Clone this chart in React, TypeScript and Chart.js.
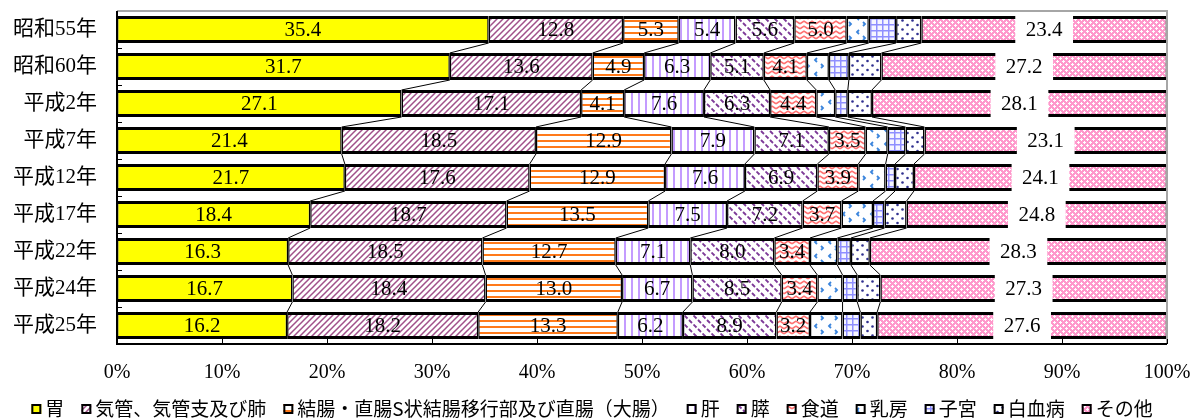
import { useEffect, useRef } from 'react';
import { Chart, registerables } from 'chart.js';

Chart.register(...registerables);

// ---- data ----
const years = ['昭和55年', '昭和60年', '平成2年', '平成7年', '平成12年', '平成17年', '平成22年', '平成24年', '平成25年'];
const seriesNames = ['胃', '気管、気管支及び肺', '結腸・直腸S状結腸移行部及び直腸（大腸）', '肝', '膵', '食道', '乳房', '子宮', '白血病', 'その他'];
const stomach = [35.4, 31.7, 27.1, 21.4, 21.7, 18.4, 16.3, 16.7, 16.2];
const lung = [12.8, 13.6, 17.1, 18.5, 17.6, 18.7, 18.5, 18.4, 18.2];
const colon = [5.3, 4.9, 4.1, 12.9, 12.9, 13.5, 12.7, 13.0, 13.3];
const liver = [5.4, 6.3, 7.6, 7.9, 7.6, 7.5, 7.1, 6.7, 6.2];
const pancreas = [5.6, 5.1, 6.3, 7.1, 6.9, 7.2, 8.0, 8.5, 8.9];
const esophagus = [5.0, 4.1, 4.4, 3.5, 3.9, 3.7, 3.4, 3.4, 3.2];
const breast = [2.1, 2.1, 1.8, 2.1, 2.6, 3.0, 2.6, 2.4, 3.1];
const uterus = [2.6, 1.9, 1.2, 1.7, 0.9, 1.1, 1.3, 1.4, 1.7];
const leukemia = [2.4, 3.1, 2.3, 1.8, 1.8, 2.1, 1.8, 2.2, 1.6];
const other = [23.4, 27.2, 28.1, 23.1, 24.1, 24.8, 28.3, 27.3, 27.6];
const xTicks = [0, 10, 20, 30, 40, 50, 60, 70, 80, 90, 100];
const labelledSeries = [true, true, true, true, true, true, false, false, false, true];

const SERIF = '"Liberation Serif", "Noto Sans CJK JP", serif';
const SANS = '"Noto Sans CJK JP", sans-serif';

function makeTile(
  target: CanvasRenderingContext2D,
  w: number,
  h: number,
  bg: string,
  draw: (g: CanvasRenderingContext2D) => void
): CanvasPattern | string {
  const c = document.createElement('canvas');
  c.width = w;
  c.height = h;
  const g = c.getContext('2d');
  if (!g) return bg;
  g.fillStyle = bg;
  g.fillRect(0, 0, w, h);
  draw(g);
  return target.createPattern(c, 'repeat') || bg;
}

function buildFills(ctx: CanvasRenderingContext2D) {
  const pLung = makeTile(ctx, 6, 6, '#FFFFFF', (g) => {
    g.strokeStyle = '#A0508A';
    g.lineWidth = 1.5;
    g.beginPath();
    g.moveTo(-1, 7); g.lineTo(7, -1);
    g.moveTo(-4, 4); g.lineTo(4, -4);
    g.moveTo(2, 10); g.lineTo(10, 2);
    g.stroke();
  });
  const pColon = makeTile(ctx, 8, 6, '#FFFFFF', (g) => {
    g.fillStyle = '#FF7A1A';
    g.fillRect(0, 2, 8, 2);
  });
  const pLiver = makeTile(ctx, 7, 4, '#FFFFFF', (g) => {
    g.fillStyle = '#C49CFF';
    g.fillRect(1, 0, 2, 4);
  });
  const pPancreas = makeTile(ctx, 9, 9, '#FFFFFF', (g) => {
    g.strokeStyle = '#7E3A98';
    g.lineWidth = 1.8;
    g.beginPath();
    g.moveTo(0.5, 0.5); g.lineTo(3.5, 3.5);
    g.moveTo(5, 5); g.lineTo(8, 8);
    g.stroke();
  });
  const pEso = makeTile(ctx, 8, 5, '#FFFFFF', (g) => {
    g.strokeStyle = '#FF7070';
    g.lineWidth = 1.6;
    g.beginPath();
    g.moveTo(0, 3.8); g.lineTo(4, 1.2); g.lineTo(8, 3.8);
    g.stroke();
  });
  const pBreast = makeTile(ctx, 14, 14, '#FFFFFF', (g) => {
    g.strokeStyle = '#3A84DC';
    g.lineWidth = 1.8;
    g.beginPath();
    g.moveTo(5, 2); g.lineTo(3, 4); g.lineTo(5, 6);
    g.moveTo(9, 8); g.lineTo(11, 10); g.lineTo(9, 12);
    g.stroke();
  });
  const pUterus = makeTile(ctx, 6, 6, '#F6F6FF', (g) => {
    g.fillStyle = '#8F8FFF';
    g.fillRect(0, 0, 6, 1.5);
    g.fillRect(0, 0, 1.5, 6);
  });
  const pLeuk = makeTile(ctx, 10, 9, '#FFFFFF', (g) => {
    g.fillStyle = '#30308F';
    g.beginPath(); g.arc(2.5, 2.5, 1.3, 0, Math.PI * 2); g.fill();
    g.beginPath(); g.arc(7.5, 7, 1.3, 0, Math.PI * 2); g.fill();
  });
  const pOther = makeTile(ctx, 6, 6, '#FF99CC', (g) => {
    g.fillStyle = '#FFFFFF';
    g.fillRect(1, 0, 1, 3);
    g.fillRect(0, 1, 3, 1);
    g.fillRect(4, 3, 1, 3);
    g.fillRect(3, 4, 3, 1);
  });
  return ['#FFFF00', pLung, pColon, pLiver, pPancreas, pEso, pBreast, pUterus, pLeuk, pOther];
}

const seriesLines = {
  id: 'seriesLines',
  beforeDatasetsDraw(chart: any) {
    const ctx = chart.ctx;
    ctx.save();
    ctx.strokeStyle = '#000000';
    ctx.lineWidth = 1;
    const n = chart.data.datasets.length;
    for (let d = 0; d < n - 1; d++) {
      const meta = chart.getDatasetMeta(d);
      for (let i = 0; i < meta.data.length - 1; i++) {
        const a: any = meta.data[i];
        const b: any = meta.data[i + 1];
        ctx.beginPath();
        ctx.moveTo(a.x, a.y + a.height / 2);
        ctx.lineTo(b.x, b.y - b.height / 2);
        ctx.stroke();
      }
    }
    ctx.restore();
  },
};

const frame = {
  id: 'frame',
  afterDatasetsDraw(chart: any) {
    const { ctx, chartArea } = chart;
    const { left, right, top, bottom } = chartArea;
    ctx.save();
    // gray top and right
    ctx.strokeStyle = '#A6A6A6';
    ctx.lineWidth = 2;
    ctx.beginPath();
    ctx.moveTo(left, top);
    ctx.lineTo(right, top);
    ctx.lineTo(right, bottom);
    ctx.stroke();
    // black axes
    ctx.strokeStyle = '#000000';
    ctx.lineWidth = 2;
    ctx.beginPath();
    ctx.moveTo(left, top);
    ctx.lineTo(left, bottom);
    ctx.lineTo(right, bottom);
    ctx.stroke();
    // ticks
    ctx.lineWidth = 1;
    const n = chart.data.labels.length;
    const step = (bottom - top) / n;
    ctx.beginPath();
    for (let i = 1; i < n; i++) {
      const yy = Math.round(top + step * i) + 0.5;
      ctx.moveTo(left, yy);
      ctx.lineTo(left + 5, yy);
    }
    const xScale = chart.scales.x;
    xTicks.forEach((v) => {
      const xx = Math.round(xScale.getPixelForValue(v)) + 0.5;
      ctx.moveTo(xx, bottom);
      ctx.lineTo(xx, bottom - 5);
    });
    ctx.stroke();
    ctx.restore();
  },
};

const valueLabels = {
  id: 'valueLabels',
  afterDatasetsDraw(chart: any) {
    const ctx = chart.ctx;
    ctx.save();
    ctx.font = `21px ${SERIF}`;
    ctx.textAlign = 'center';
    ctx.textBaseline = 'middle';
    chart.data.datasets.forEach((ds: any, d: number) => {
      if (!labelledSeries[d]) return;
      const meta = chart.getDatasetMeta(d);
      meta.data.forEach((el: any, i: number) => {
        const text = Number(ds.data[i]).toFixed(1);
        const cx = (el.x + el.base) / 2;
        const cy = el.y;
        if (d === chart.data.datasets.length - 1) {
          const w = ctx.measureText(text).width + 21;
          ctx.fillStyle = '#FFFFFF';
          ctx.fillRect(cx - w / 2, cy - 15.5, w, 31);
        }
        ctx.fillStyle = '#000000';
        ctx.fillText(text, cx, cy + 1);
      });
    });
    ctx.restore();
  },
};

const customLegend = {
  id: 'customLegend',
  afterDraw(chart: any) {
    const ctx = chart.ctx;
    ctx.save();
    ctx.font = `19px ${SANS}`;
    ctx.textBaseline = 'middle';
    ctx.textAlign = 'left';
    const box = 10;
    const gapText = 4;
    const gapItem = 17;
    const widths = chart.data.datasets.map((ds: any) => ctx.measureText(ds.label).width);
    const total =
      widths.reduce((s: number, w: number) => s + w, 0) +
      widths.length * (box + gapText) +
      (widths.length - 1) * gapItem;
    let x = 592 - total / 2;
    const cy = 409;
    chart.data.datasets.forEach((ds: any, i: number) => {
      ctx.fillStyle = ds.backgroundColor;
      ctx.fillRect(x, cy - box / 2, box, box);
      ctx.strokeStyle = '#000000';
      ctx.lineWidth = 2;
      ctx.strokeRect(x + 1, cy - box / 2 + 1, box - 2, box - 2);
      ctx.fillStyle = '#000000';
      ctx.fillText(ds.label, x + box + gapText, cy);
      x += box + gapText + widths[i] + gapItem;
    });
    ctx.restore();
  },
};

export default function App() {
  const canvasRef = useRef<HTMLCanvasElement | null>(null);

  useEffect(() => {
    const canvas = canvasRef.current;
    if (!canvas) return;
    const ctx = canvas.getContext('2d');
    if (!ctx) return;
    const fills = buildFills(ctx);
    const values = [stomach, lung, colon, liver, pancreas, esophagus, breast, uterus, leukemia, other];
    const datasets = values.map((data, i) => ({
      label: seriesNames[i],
      data,
      backgroundColor: fills[i] as any,
      borderColor: '#000000',
      borderWidth: { top: 3, bottom: 3, left: 1.5, right: 1.5 },
      borderSkipped: false as const,
      barPercentage: 0.73,
      categoryPercentage: 1,
    }));

    const chart = new Chart(canvas, {
      type: 'bar',
      data: { labels: years, datasets },
      options: {
        indexAxis: 'y',
        animation: false,
        responsive: false,
        events: [],
        layout: { padding: { top: 11, right: 32, bottom: 40, left: 0 } },
        plugins: {
          legend: { display: false },
          tooltip: { enabled: false },
        },
        scales: {
          x: {
            stacked: true,
            min: 0,
            max: 100,
            afterFit: (s: any) => {
              s.height = 36;
              s.paddingLeft = 0;
              s.paddingRight = 0;
            },
            afterBuildTicks: (s: any) => {
              s.ticks = xTicks.map((v) => ({ value: v }));
            },
            grid: { display: false, drawTicks: false },
            border: { display: false },
            ticks: {
              padding: 17,
              color: '#000000',
              font: { family: SERIF, size: 20 },
              callback: (v: any) => `${v}%`,
              autoSkip: false,
              maxRotation: 0,
            },
          },
          y: {
            stacked: true,
            afterFit: (s: any) => {
              s.width = 117;
              s.paddingTop = 0;
              s.paddingBottom = 0;
            },
            grid: { display: false, drawTicks: false },
            border: { display: false },
            ticks: {
              padding: 20,
              color: '#000000',
              font: { family: SERIF, size: 21 },
            },
          },
        },
      },
      plugins: [seriesLines, frame, valueLabels, customLegend],
    });
    return () => chart.destroy();
  }, []);

  return (
    <div style={{ position: 'absolute', left: 0, top: 0, width: 1199, height: 420, background: '#FFFFFF' }}>
      <canvas ref={canvasRef} width={1199} height={420} style={{ display: 'block' }} />
    </div>
  );
}
